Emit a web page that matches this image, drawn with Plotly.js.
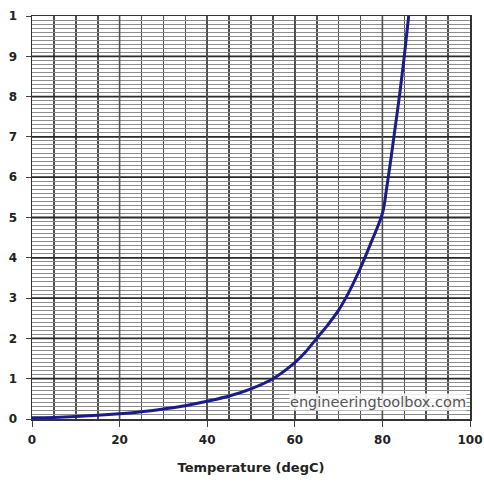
<!DOCTYPE html>
<html>
<head>
<meta charset="utf-8">
<script src="https://cdn.plot.ly/plotly-3.0.1.min.js"></script>
<style>html,body{margin:0;padding:0;background:#fff;}#chart{width:484px;height:482px;}</style>
</head>
<body>
<div id="chart"></div>
<script>
const temperature = [0, 5, 10, 15, 20, 25, 30, 35, 40, 45, 50, 55, 60, 62.5, 65, 67.5, 70, 72.5, 75, 77.5, 80, 81, 82, 83, 84, 85, 86];
const value = [0.003, 0.004, 0.006, 0.009, 0.013, 0.018, 0.025, 0.033, 0.044, 0.057, 0.075, 0.10, 0.14, 0.167, 0.20, 0.233, 0.27, 0.318, 0.375, 0.44, 0.51, 0.575, 0.65, 0.73, 0.81, 0.90, 1.0];
const yTickVals = [0, 0.1, 0.2, 0.3, 0.4, 0.5, 0.6, 0.7, 0.8, 0.9, 1.0];
const yTickText = ["0", "1", "2", "3", "4", "5", "6", "7", "8", "9", "1"];
const xTickVals = [0, 20, 40, 60, 80, 100];
const xTitle = "Temperature (degC)";
const watermark = "engineeringtoolbox.com";

const FONT = 'DejaVu Sans, Verdana, sans-serif';

// fine y grid every 0.01, skipping the labelled values (those get darker lines)
const yFine = [];
for (let i = 1; i < 100; i++) { if (i % 10 !== 0) yFine.push(i / 100); }

const curve = {
  x: temperature, y: value, type: 'scatter', mode: 'lines',
  line: {color: '#1c1c88', width: 3, shape: 'spline', smoothing: 1},
  hoverinfo: 'skip'
};

// darker major grid lines at the labelled tick values
const majorShapes = [];
yTickVals.slice(1, -1).forEach(v => majorShapes.push({
  type: 'line', layer: 'between', xref: 'x', yref: 'y', x0: 0, x1: 100, y0: v, y1: v,
  line: {color: '#2a2a2a', width: 1.8}
}));
xTickVals.slice(1, -1).forEach(v => majorShapes.push({
  type: 'line', layer: 'between', xref: 'x', yref: 'y', x0: v, x1: v, y0: 0, y1: 1,
  line: {color: '#505050', width: 1.6}
}));

const layout = {
  width: 484, height: 482,
  margin: {l: 32, r: 14, t: 16, b: 63},
  paper_bgcolor: '#fff', plot_bgcolor: '#fff',
  showlegend: false,
  xaxis: {
    range: [0, 100], tickmode: 'array', tickvals: xTickVals, ticktext: xTickVals.map(String),
    ticks: 'outside', ticklen: 6, tickcolor: '#444', tickwidth: 1,
    ticklabelstandoff: 3,
    showgrid: false,
    minor: {tickmode: 'linear', tick0: 0, dtick: 5, showgrid: true, gridcolor: '#505050', gridwidth: 1.6, ticks: ''},
    showline: true, linecolor: '#333', linewidth: 1.5, mirror: true,
    zeroline: false,
    tickfont: {family: FONT, size: 12, color: '#222', weight: 'bold'},
    title: {text: xTitle, font: {family: FONT, size: 13, color: '#222', weight: 'bold'}, standoff: 17}
  },
  yaxis: {
    range: [0, 1], tickmode: 'array', tickvals: yTickVals, ticktext: yTickText,
    ticks: 'outside', ticklen: 5, tickcolor: '#444', tickwidth: 1,
    ticklabelstandoff: 6,
    showgrid: false,
    minor: {tickmode: 'array', tickvals: yFine, showgrid: true, gridcolor: '#8c8c8c', gridwidth: 1, ticks: ''},
    showline: true, linecolor: '#333', linewidth: 1.5, mirror: true,
    zeroline: false,
    tickfont: {family: FONT, size: 12, color: '#222', weight: 'bold'}
  },
  shapes: majorShapes,
  annotations: [{
    text: watermark, xref: 'x', yref: 'y', x: 99.2, y: 0.042,
    xanchor: 'right', yanchor: 'middle', showarrow: false,
    font: {family: FONT, size: 14.5, color: '#555'},
    bgcolor: 'rgba(255,255,255,0.85)', borderpad: 0
  }]
};

Plotly.newPlot('chart', [curve], layout, {staticPlot: true, displayModeBar: false});
</script>
</body>
</html>
